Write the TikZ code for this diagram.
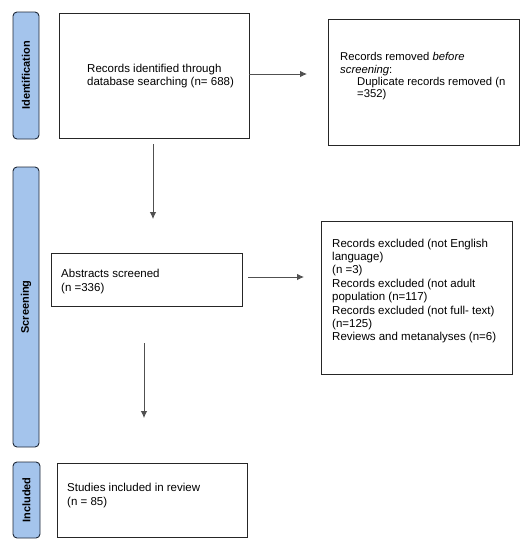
\documentclass[tikz,border=0pt]{standalone}
\usepackage{fontspec}
\setmainfont{Liberation Sans}
\usetikzlibrary{arrows.meta}
\definecolor{barfill}{RGB}{164,196,236}
\definecolor{barline}{RGB}{30,40,55}
\definecolor{arrowgray}{RGB}{80,80,80}
\tikzset{
  box/.style={draw=black!85, line width=0.9pt, fill=white, inner sep=0pt},
  bar/.style={draw=barline, line width=0.9pt, fill=barfill, rounded corners=4pt, inner sep=0pt},
  barlabel/.style={rotate=90, font=\bfseries\fontsize{11}{13}\selectfont, text=black, inner sep=0pt},
  boxtext/.style={anchor=north west, align=left, inner sep=0pt, text=black, font=\fontsize{11.5}{13.4}\selectfont},
  flow/.style={draw=arrowgray, line width=0.8pt, -{Latex[length=7pt,width=6.5pt]}}
}
\begin{document}
\begin{tikzpicture}[x=1pt,y=-1pt]
\useasboundingbox (0,0) rectangle (530,550);
% side bars
\draw[bar] (13,12) rectangle (39,139);
\node[barlabel] (lid) at (26,75.5) {Identification};
\draw[bar] (13,167) rectangle (39,447);
\node[barlabel] (lsc) at (26,307) {Screening};
\draw[bar] (13,462) rectangle (40,538);
\node[barlabel] (lin) at (26.5,500) {Included};
% boxes
\node[box, minimum width=190pt, minimum height=125pt] (b1) at (154,75.5) {};
\node[box, minimum width=191pt, minimum height=126pt] (b2) at (423.5,82) {};
\node[box, minimum width=191pt, minimum height=53pt] (b3) at (146.5,279.5) {};
\node[box, minimum width=191pt, minimum height=153pt] (b4) at (416.5,297.5) {};
\node[box, minimum width=190pt, minimum height=74pt] (b5) at (152,500) {};
% texts
\node[boxtext] (t1) at (87,63.5) {Records identified through\\database searching (n= 688)};
\node[boxtext, font=\fontsize{11.3}{12.2}\selectfont] (t2) at (340,52.5) {Records removed \textit{before}\\\textit{screening}:\\\hspace*{17pt}Duplicate records removed (n\\\hspace*{17pt}=352)};
\node[boxtext, font=\fontsize{11.5}{14.5}\selectfont] (t3) at (61,268.5) {Abstracts screened\\(n =336)};
\node[boxtext] (t4) at (332,238.5) {Records excluded (not English\\language)\\(n =3)\\Records excluded (not adult\\population (n=117)\\Records excluded (not full- text)\\(n=125)\\Reviews and metanalyses (n=6)};
\node[boxtext, font=\fontsize{11.5}{14.5}\selectfont] (t5) at (67,482.5) {Studies included in review\\(n = 85)};
% arrows
\coordinate (a1e) at (307,74);
\coordinate (a2s) at (153,144);
\coordinate (a2e) at (153,219);
\coordinate (a3s) at (248,277);
\coordinate (a3e) at (304,277);
\coordinate (a4s) at (144,343);
\coordinate (a4e) at (144,418);
\draw[flow] (b1.east |- a1e) -- (a1e);
\draw[flow] (a2s) -- (a2e);
\draw[flow] (a3s) -- (a3e);
\draw[flow] (a4s) -- (a4e);
\end{tikzpicture}
\end{document}
